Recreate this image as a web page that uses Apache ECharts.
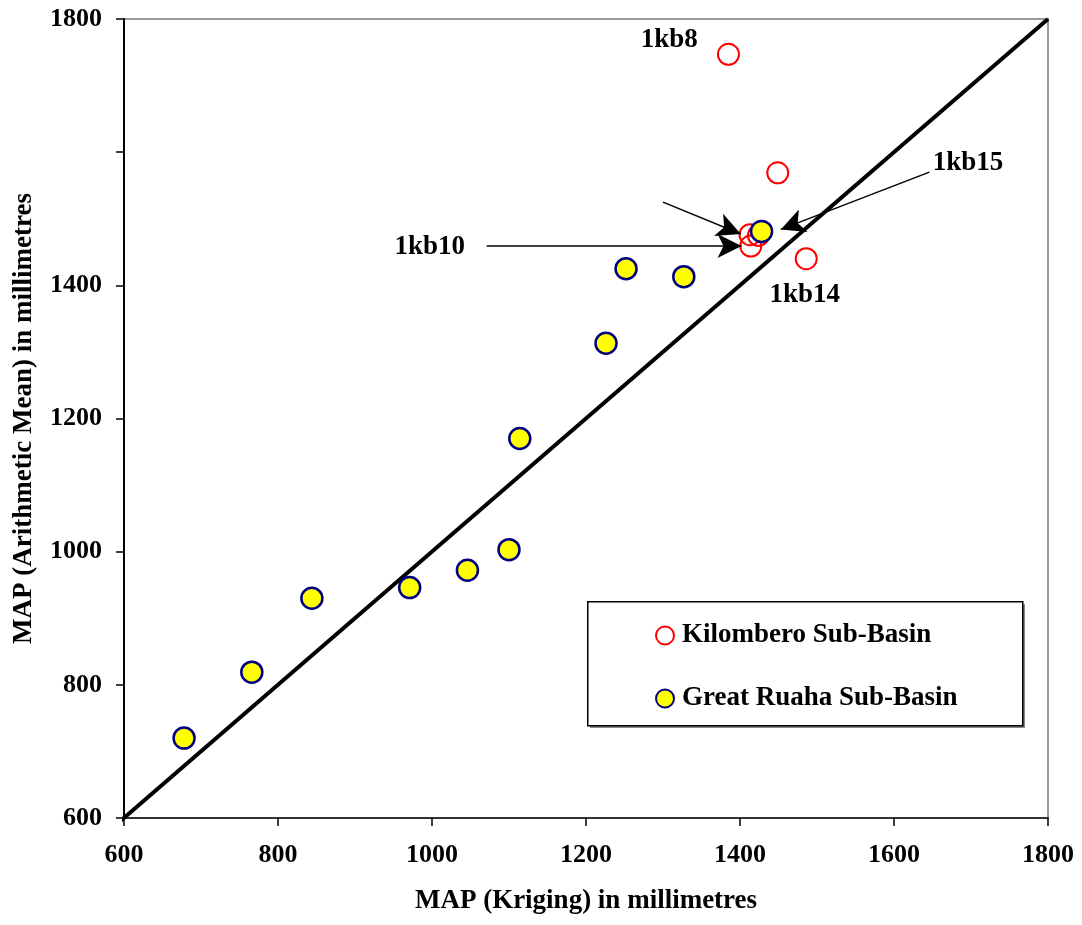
<!DOCTYPE html>
<html>
<head>
<meta charset="utf-8">
<script src="https://cdn.jsdelivr.net/npm/echarts@6/dist/echarts.min.js"></script>
<style>html,body{margin:0;padding:0;background:#fff}#c{width:1082px;height:925px}</style>
</head>
<body>
<div id="c"></div>
<script>
// Data (MAP Kriging vs MAP Arithmetic Mean, mm)
var kilombero = [[1385,1747],[1449,1569],[1486,1440],[1414,1459],[1413,1476],[1424,1475]];
var greatRuaha = [[678,720],[766,819],[844,930],[971,946],[1046,972],[1100,1003],[1114,1170],[1226,1313],[1252,1425],[1327,1413],[1428,1481]];
var oneToOne = [[584,584],[1800,1800]];
var stationLabels = [
  {name:'1kb8', value:[1308,1769]},
  {name:'1kb10', value:[997,1457]},
  {name:'1kb15', value:[1696,1583]},
  {name:'1kb14', value:[1484,1385]}
];
var arrows = [
  [[1071,1459],[1402,1459]],
  [[1300,1525],[1401,1477]],
  [[1646,1570],[1453,1484]]
];
var axisTicks = [600,800,1000,1200,1400,1600,1800];
var hiddenTickLabels = [1600];
var seriesNames = ['Kilombero Sub-Basin','Great Ruaha Sub-Basin'];

var F = '"Liberation Serif","Times New Roman",serif';
var chart = echarts.init(document.getElementById('c'));
chart.setOption({
  animation:false,
  backgroundColor:'#fff',
  grid:{left:124,right:34,top:19,bottom:107,show:true,borderColor:'#9a9a9a',borderWidth:2},
  xAxis:{type:'value',min:axisTicks[0],max:axisTicks[axisTicks.length-1],interval:200,
    name:'MAP (Kriging) in millimetres',nameLocation:'middle',nameGap:70,
    nameTextStyle:{fontFamily:F,fontWeight:'bold',fontSize:27,color:'#000'},
    axisLine:{lineStyle:{color:'#333',width:2}},
    axisTick:{show:true,length:8,inside:false,lineStyle:{color:'#000',width:1.5}},
    axisLabel:{margin:24,fontFamily:F,fontWeight:'bold',fontSize:26,color:'#000',
      formatter:function(v){return String(v);}},
    splitLine:{show:false}},
  yAxis:{type:'value',min:axisTicks[0],max:axisTicks[axisTicks.length-1],interval:200,
    name:'MAP (Arithmetic Mean) in millimetres',nameLocation:'middle',nameGap:86,nameRotate:90,
    nameTextStyle:{fontFamily:F,fontWeight:'bold',fontSize:27,color:'#000'},
    axisLine:{lineStyle:{color:'#000',width:2}},
    axisTick:{show:true,length:8,inside:false,lineStyle:{color:'#000',width:1.5}},
    axisLabel:{margin:22,fontFamily:F,fontWeight:'bold',fontSize:26,color:'#000',
      formatter:function(v){return hiddenTickLabels.indexOf(v)>=0?'':String(v);}},
    splitLine:{show:false}},
  legend:{data:seriesNames,orient:'vertical',left:650,top:617,itemGap:36,itemWidth:18,itemHeight:18,z:20,
    icon:'circle',
    textStyle:{fontFamily:F,fontWeight:'bold',fontSize:27,color:'#000',padding:[0,0,0,3]}},
  graphic:[
    {type:'rect',left:590,top:604,shape:{width:435,height:124},z:9,silent:true,
      style:{fill:'#888',stroke:null}},
    {type:'rect',left:587,top:601,shape:{width:435,height:124},z:10,silent:true,
      style:{fill:'#fff',stroke:'#000',lineWidth:1.5}}
  ],
  series:[
    {type:'line',name:'1:1',data:oneToOne,symbol:'none',clip:false,z:1,
      lineStyle:{color:'#000',width:4},
      markLine:{silent:true,symbol:['none','arrow'],symbolSize:[18,24],
        lineStyle:{color:'#000',width:1.5,type:'solid'},label:{show:false},
        data:arrows.map(function(a){return [{coord:a[0]},{coord:a[1]}];})}},
    {type:'scatter',name:seriesNames[0],data:kilombero,symbol:'circle',symbolSize:21,z:3,
      itemStyle:{color:'rgba(255,255,255,0)',borderColor:'#ff0000',borderWidth:2,opacity:1}},
    {type:'scatter',name:seriesNames[1],data:greatRuaha,symbol:'circle',symbolSize:21,z:4,
      itemStyle:{color:'#ffff00',borderColor:'#000080',borderWidth:2.5,opacity:1}},
    {type:'scatter',name:'labels',data:stationLabels,symbolSize:0,z:5,
      itemStyle:{opacity:1},
      label:{show:true,position:'inside',formatter:'{b}',fontFamily:F,fontWeight:'bold',fontSize:27,color:'#000'}}
  ]
});
</script>
</body>
</html>
